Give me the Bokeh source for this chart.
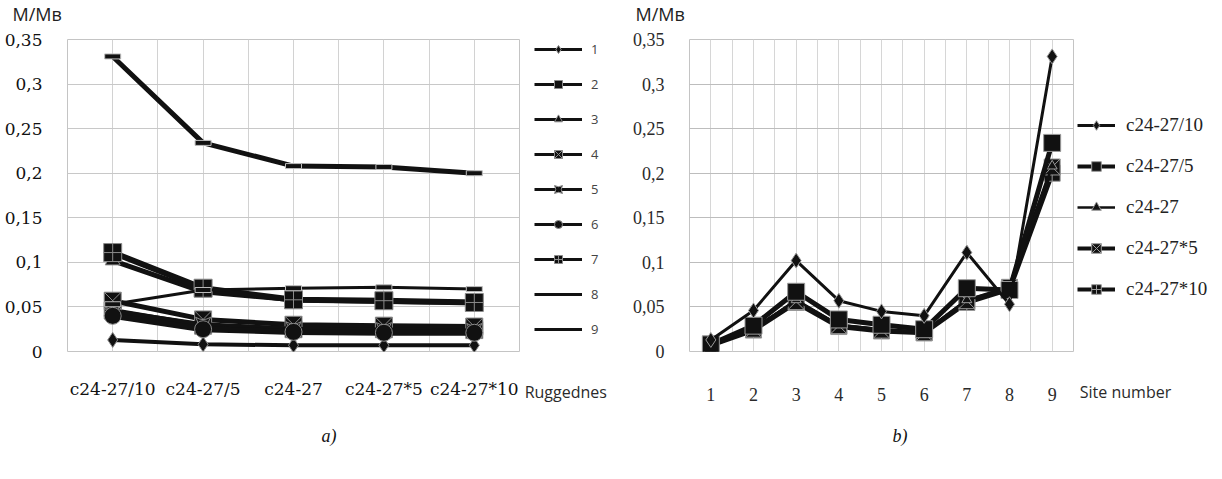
from bokeh.plotting import figure
from bokeh.models import (FixedTicker, Legend, LegendItem, Label, Range1d,
                          CustomJSTickFormatter)
from bokeh.layouts import row, column
from bokeh.embed import file_html
from bokeh.resources import INLINE

# ---------------- data ----------------
ruggedness = ["c24-27/10", "c24-27/5", "c24-27", "c24-27*5", "c24-27*10"]
site_numbers = [1, 2, 3, 4, 5, 6, 7, 8, 9]
site_labels = ["1", "2", "3", "4", "5", "6", "7", "8", "9"]

# M/Mв per site for each ruggedness variant
site_1 = [0.013, 0.008, 0.007, 0.007, 0.007]
site_2 = [0.046, 0.029, 0.025, 0.025, 0.024]
site_3 = [0.102, 0.067, 0.058, 0.056, 0.055]
site_4 = [0.057, 0.036, 0.030, 0.029, 0.028]
site_5 = [0.045, 0.030, 0.025, 0.024, 0.023]
site_6 = [0.040, 0.025, 0.022, 0.021, 0.021]
site_7 = [0.111, 0.071, 0.058, 0.057, 0.055]
site_8 = [0.053, 0.069, 0.071, 0.072, 0.070]
site_9 = [0.331, 0.234, 0.208, 0.207, 0.200]

y_ticks = [0, 0.05, 0.1, 0.15, 0.2, 0.25, 0.3, 0.35]
y_title = "M/Mв"
x_title_a = "Ruggednes"
x_title_b = "Site number"
captions = ["a)", "b)"]

sites = [site_1, site_2, site_3, site_4, site_5, site_6, site_7, site_8, site_9]

comma_fmt = CustomJSTickFormatter(code="return tick.toString().replace('.', ',');")
INK = "#111111"

ROW_H = 392
TOP_B = 11
BOT_B = 69


def blank_fig(w, h):
    f = figure(width=w, height=h, x_range=Range1d(0, w), y_range=Range1d(h, 0),
               x_axis_location=None, y_axis_location=None, output_backend="svg",
               toolbar_location=None, title=None, min_border=0)
    f.grid.visible = False
    f.outline_line_color = None
    f.background_fill_color = "white"
    f.border_fill_color = "white"
    return f


def side_fig(w, tick_x, text, standoff):
    """Strip to the right of a chart: holds its legend and its x-axis title."""
    f = figure(width=w, height=ROW_H, x_range=Range1d(0, w), y_range=Range1d(0, 1),
               y_axis_location=None, output_backend="svg", toolbar_location=None,
               title=None, min_border_left=0, min_border_right=0,
               min_border_top=TOP_B, min_border_bottom=BOT_B)
    f.grid.visible = False
    f.outline_line_color = None
    f.extra_x_ranges = {"hidden": Range1d(1000, 2000)}
    f.xaxis.ticker = FixedTicker(ticks=[tick_x])
    f.xaxis.major_label_overrides = {tick_x: text}
    f.xaxis.axis_line_color = None
    f.xaxis.major_tick_line_color = None
    f.xaxis.minor_tick_line_color = None
    f.xaxis.major_label_text_font = "Open Sans"
    f.xaxis.major_label_text_font_size = "16px"
    f.xaxis.major_label_text_color = "#2a2a2a"
    f.xaxis.major_label_standoff = standoff
    return f


# ---------------- left chart (a) ----------------
p1 = figure(width=524, height=ROW_H, x_range=Range1d(-0.5, 4.5), y_range=Range1d(0, 0.35),
            output_backend="svg", toolbar_location=None, title=None,
            min_border_left=67, min_border_right=5, min_border_top=TOP_B, min_border_bottom=BOT_B)
p1.outline_line_color = "#c4c4c4"
p1.xaxis.ticker = FixedTicker(ticks=list(range(len(ruggedness))))
p1.xaxis.major_label_overrides = {i: lab for i, lab in enumerate(ruggedness)}
p1.yaxis.ticker = FixedTicker(ticks=y_ticks)
p1.yaxis.formatter = comma_fmt
for ax in (p1.xaxis, p1.yaxis):
    ax.axis_line_color = None
    ax.major_tick_line_color = None
    ax.minor_tick_line_color = None
    ax.major_label_text_font = "DejaVu Serif"
    ax.major_label_text_font_size = "17px"
    ax.major_label_text_color = "#111111"
p1.xaxis.major_label_standoff = 21
p1.yaxis.major_label_standoff = 19
p1.xgrid.ticker = FixedTicker(ticks=[-0.5 + 0.5 * i for i in range(11)])
p1.ygrid.ticker = FixedTicker(ticks=y_ticks)
p1.xgrid.grid_line_color = "#d2d2d2"
p1.ygrid.grid_line_color = "#c8c8c8"

xs = list(range(len(ruggedness)))
left_markers = ["diamond", "square", "triangle", "square_x", "square_pin", "circle", "square_cross", None, None]
left_widths = [4, 5, 5, 5, 5, 6, 6, 3, 5]
left_sizes = [15, 17, 15, 17, 15, 17, 18, 0, 0]

s1 = side_fig(90, 41, x_title_a, 23)
items1 = []
for i, vals in enumerate(sites):
    p1.line(xs, vals, line_color=INK, line_width=left_widths[i])
    rs = [s1.line(xs, vals, x_range_name="hidden", line_color=INK, line_width=3)]
    if left_markers[i] is not None:
        p1.scatter(xs, vals, marker=left_markers[i], size=left_sizes[i],
                   fill_color=INK, line_color="#8a8a8a", line_width=1)
        rs.append(s1.scatter(xs, vals, x_range_name="hidden", marker=left_markers[i],
                             size=left_sizes[i], fill_color=INK, line_color="#8a8a8a",
                             line_width=1))
    else:
        p1.rect(xs, vals, width=16, height=5, width_units="screen", height_units="screen",
                fill_color=INK, line_color="#bdbdbd", line_width=1)
    items1.append(LegendItem(label=site_labels[i], renderers=rs))

leg1 = Legend(items=items1, location=(10, 12), padding=0, margin=0,
              glyph_width=48, glyph_height=20, label_height=20, spacing=15,
              label_standoff=9, label_text_font="Open Sans", label_text_font_size="13px",
              label_text_color="#444444", background_fill_alpha=0, border_line_color=None)
s1.add_layout(leg1, "center")

# ---------------- right chart (b) ----------------
p2 = figure(width=460, height=ROW_H, x_range=Range1d(0.5, 9.5), y_range=Range1d(0, 0.35),
            output_backend="svg", toolbar_location=None, title=None,
            min_border_left=75, min_border_right=1, min_border_top=TOP_B, min_border_bottom=BOT_B)
p2.outline_line_color = "#c4c4c4"
p2.xaxis.ticker = FixedTicker(ticks=site_numbers)
p2.yaxis.ticker = FixedTicker(ticks=y_ticks)
p2.yaxis.formatter = comma_fmt
for ax in (p2.xaxis, p2.yaxis):
    ax.axis_line_color = None
    ax.major_tick_line_color = None
    ax.minor_tick_line_color = None
    ax.major_label_text_font = "Liberation Serif"
    ax.major_label_text_font_size = "18px"
    ax.major_label_text_color = "#2a2a2a"
p2.xaxis.major_label_standoff = 30
p2.yaxis.major_label_standoff = 19
p2.xgrid.ticker = FixedTicker(ticks=[0.5 + 0.5 * i for i in range(19)])
p2.ygrid.ticker = FixedTicker(ticks=y_ticks)
p2.xgrid.grid_line_color = "#d6d6d6"
p2.ygrid.grid_line_color = "#bdbdbd"

series_by_rug = [[s[j] for s in sites] for j in range(len(ruggedness))]
right_markers = ["diamond", "square", "triangle", "square_x", "square_cross"]
right_widths = [3, 5, 2.5, 4, 5]
right_sizes = [15, 17, 10, 16, 16]

s2 = side_fig(138, 51, x_title_b, 23)
for j in [4, 3, 2, 1, 0]:
    vals = series_by_rug[j]
    p2.line(site_numbers, vals, line_color=INK, line_width=right_widths[j])
    p2.scatter(site_numbers, vals, marker=right_markers[j], size=right_sizes[j],
               fill_color=INK, line_color="#9a9a9a", line_width=1)
items2 = []
for j in range(len(ruggedness)):
    vals = series_by_rug[j]
    lr = s2.line(site_numbers, vals, x_range_name="hidden", line_color=INK,
                 line_width=min(right_widths[j], 4))
    sr = s2.scatter(site_numbers, vals, x_range_name="hidden", marker=right_markers[j],
                    size=right_sizes[j], fill_color=INK, line_color="#9a9a9a", line_width=1)
    items2.append(LegendItem(label=ruggedness[j], renderers=[lr, sr]))

leg2 = Legend(items=items2, location=(3, 50), padding=0, margin=0,
              glyph_width=38, glyph_height=24, label_height=24, spacing=17,
              label_standoff=11, label_text_font="Liberation Serif",
              label_text_font_size="19px", label_text_color="#222222",
              background_fill_alpha=0, border_line_color=None)
s2.add_layout(leg2, "center")

# ---------------- header & captions ----------------
header = blank_fig(1212, 28)
for hx in (12, 635):
    header.add_layout(Label(x=hx, y=13, text=y_title, text_font="Open Sans",
                            text_font_size="18px", text_color="#222222",
                            text_baseline="middle"))

footer = blank_fig(1212, 40)
for cx, cap in zip((321, 892), captions):
    footer.add_layout(Label(x=cx, y=15, text=cap, text_font="Liberation Serif",
                            text_font_style="italic", text_font_size="18px",
                            text_color=INK, text_baseline="middle"))

layout = column(header, row(p1, s1, p2, s2), footer)
open("out.html", "w").write(file_html(layout, INLINE))
